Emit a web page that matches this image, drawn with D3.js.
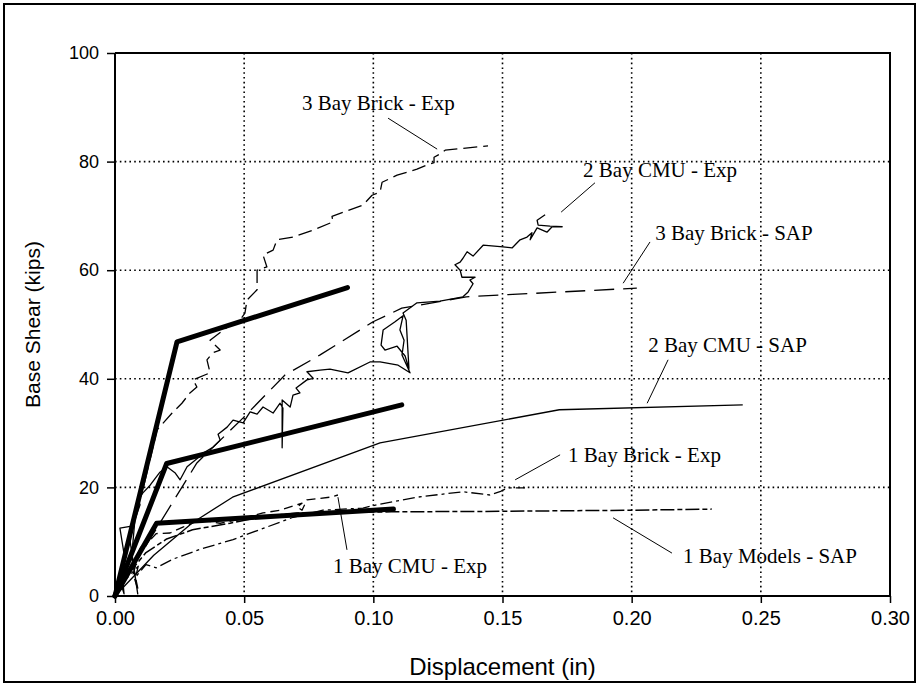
<!DOCTYPE html>
<html><head><meta charset="utf-8">
<script src="https://cdn.jsdelivr.net/npm/d3@7"></script>
<style>body{margin:0;background:#fff}</style></head>
<body><svg id="chart" width="918" height="685"></svg>
<script>
// ---- tick labels ----
const xTicks = [0, 0.05, 0.10, 0.15, 0.20, 0.25, 0.30];
const yTicks = [0, 20, 40, 60, 80, 100];
const xTitle = "Displacement (in)";
const yTitle = "Base Shear (kips)";

// ---- series: [displacement (in), base shear (kips)] ----
const bilinear3Bay = [[0,0],[0.024,46.8],[0.090,56.8]];
const bilinear2Bay = [[0,0],[0.020,24.4],[0.111,35.2]];
const bilinear1Bay = [[0,0],[0.0161,13.4],[0.1078,16.0]];

const bay3BrickExp = [[0,0],[0.003,6],[0.002,4],[0.006,12],[0.005,9],[0.009,17],[0.008,15],[0.012,22],[0.011,20],[0.014,26],
  [0.0163,30.6],[0.0221,33.7],[0.0259,35.5],[0.0290,37.4],[0.0317,38.5],[0.0302,39.8],[0.0368,41.1],[0.0356,43.5],
  [0.0379,44.8],[0.0407,45.3],[0.0368,47.1],[0.0434,49.5],[0.0484,50.8],[0.0503,52.1],[0.0511,54.5],[0.0550,56.4],
  [0.0550,58.2],[0.0550,60.0],[0.0588,60.6],[0.0573,62.8],[0.0612,63.7],[0.0627,65.6],[0.0689,66.1],[0.0767,67.4],
  [0.0844,68.9],[0.0840,69.9],[0.0960,72.0],[0.0995,73.8],[0.1026,74.4],[0.1034,76.2],[0.1092,77.5],[0.1169,78.6],
  [0.1208,79.4],[0.1235,79.8],[0.1235,80.8],[0.1258,81.4],[0.1278,82.1],[0.1444,82.9]];

const bay2CmuExp = [[0,0],[0.0019,2.9],[0.0035,0.4],[0.0027,4.5],[0.0039,6.6],[0.0019,12.5],[0.0070,12.9],[0.0050,9.4],
  [0.0058,10.3],[0.0088,0.4],[0.0065,7.5],[0.0077,14.0],
  [0.0097,16.8],[0.0089,17.7],[0.0108,19.0],[0.0136,20.4],[0.0174,22.8],[0.0201,23.8],[0.0232,22.7],[0.0252,21.4],
  [0.0279,23.8],[0.0310,25.0],[0.0348,26.5],[0.0379,27.4],[0.0407,28.7],[0.0399,29.8],[0.0434,31.1],[0.0457,32.4],
  [0.0496,31.9],[0.0523,33.9],[0.0550,33.5],[0.0573,34.8],[0.0612,33.7],[0.0639,35.5],[0.0650,34.6],[0.0647,27.3],
  [0.0647,36.1],[0.0678,34.8],[0.0689,37.0],[0.0716,37.4],[0.0701,38.3],[0.0743,39.8],[0.0767,40.1],[0.0743,41.3],
  [0.0794,41.6],[0.0832,41.8],[0.0902,41.1],[0.0987,43.1],[0.1026,43.1],[0.1096,42.5],[0.1142,41.1],[0.1111,44.4],
  [0.1119,47.1],[0.1103,49.0],[0.1115,51.6],[0.1084,50.5],[0.1038,49.0],[0.1030,46.2],[0.1045,45.3],[0.1092,46.0],
  [0.1123,44.2],[0.1138,41.8],[0.1127,50.8],[0.1115,52.1],[0.1169,54.0],[0.1258,54.3],[0.1347,55.1],[0.1367,56.0],
  [0.1386,57.5],[0.1374,58.2],[0.1394,58.7],[0.1343,58.7],[0.1336,60.0],[0.1316,61.0],[0.1336,61.5],[0.1347,62.2],
  [0.1363,63.4],[0.1386,62.6],[0.1425,64.6],[0.1502,64.3],[0.1537,64.1],[0.1568,65.6],[0.1595,66.1],[0.1614,66.9],
  [0.1607,65.6],[0.1618,66.5],[0.1634,67.8],[0.1672,67.0],[0.1692,68.0],[0.1731,68.0],[0.1684,68.1],[0.1638,68.3],
  [0.1634,69.2],[0.1665,70.2]];

const bay3BrickSap = [[0,0],[0.0317,24.5],[0.0496,32.8],[0.0658,40.7],[0.0794,44.4],[0.0999,50.5],[0.111,53.0],
  [0.136,55.1],[0.202,56.7]];

const bay2CmuSap = [[0,0],[0.015,7.5],[0.030,13.5],[0.0455,18.2],[0.1026,28.2],[0.172,34.3],[0.243,35.2]];

const bay1BrickExp = [[0,0],[0.003,2.5],[0.002,1.2],[0.006,4.5],[0.004,3],[0.009,5.5],[0.008,3.5],[0.012,5.8],
  [0.016,5.2],[0.0225,6.8],[0.033,8.6],[0.0457,10.4],[0.0588,12.7],[0.069,14.5],[0.0805,15.8],[0.096,16.2],
  [0.1014,16.8],[0.117,18.2],[0.1347,19.2],[0.145,18.6],[0.149,19.2],[0.1518,19.9],[0.1587,19.9]];

const bay1CmuExp = [[0,0],[0.004,5],[0.002,3],[0.006,8],[0.009,1],[0.007,4],[0.010,9],[0.008,7],[0.013,10.5],
  [0.011,9],[0.016,11.5],[0.0213,11.6],[0.0263,12.7],[0.0329,14.0],[0.0407,13.4],[0.0472,14.0],[0.0573,15.3],
  [0.0639,15.8],[0.0724,17.1],[0.0705,16.4],[0.0724,15.8],[0.0743,17.7],[0.0832,18.2],[0.0863,18.6]];

const bay1ModelsSap = [[0,0],[0.005,4],[0.012,8],[0.020,10.5],[0.030,12.2],[0.0445,13.4],[0.057,14.6],[0.0705,15.3],
  [0.107,15.5],[0.150,15.6],[0.200,15.8],[0.231,16.0]];

// ---- annotations: text, label anchor (d, v), leader from -> to ----
const labels = ["3 Bay Brick - Exp","2 Bay CMU - Exp","3 Bay Brick - SAP","2 Bay CMU - SAP","1 Bay Brick - Exp","1 Bay Models - SAP","1 Bay CMU - Exp"];
const labelAt = [[0.0724,89.5],[0.1812,77.2],[0.2091,65.6],[0.2064,44.9],[0.1754,24.7],[0.2199,6.1],[0.0844,4.2]];
const leaders = [[[0.1057,88.0],[0.1247,82.3]],[[0.1858,76.1],[0.1727,70.7]],[[0.2071,65.2],[0.1967,57.6]],
  [[0.2141,43.5],[0.2060,35.5]],[[0.1723,26.0],[0.1549,21.4]],[[0.1928,14.4],[0.2156,7.9]],[[0.0863,18.2],[0.0898,8.5]]];

// ---- drawing ----
const svg = d3.select("#chart");
const L = 115, R = 890, T = 53, B = 596;
const x = d3.scaleLinear().domain([0, 0.30]).range([L, R]);
const y = d3.scaleLinear().domain([0, 100]).range([B, T]);
const line = d3.line().x(d => x(d[0])).y(d => y(d[1]));
const sans = "Liberation Sans, Arial, sans-serif";

svg.append("rect").attr("x", 4).attr("y", 4).attr("width", 911).attr("height", 678)
  .attr("fill", "#fff").attr("stroke", "#000").attr("stroke-width", 2);

// grid
const grid = svg.append("g").attr("stroke", "#000").attr("stroke-width", 1.6).attr("stroke-dasharray", "1.6,3.2");
grid.selectAll(".vx").data(xTicks.slice(1, -1)).join("line")
  .attr("x1", d => x(d)).attr("x2", d => x(d)).attr("y1", T).attr("y2", B);
grid.selectAll(".hy").data(yTicks.slice(1, -1)).join("line")
  .attr("x1", L).attr("x2", R).attr("y1", d => y(d)).attr("y2", d => y(d));

// series
const series = [
  {d: bay1BrickExp, w: 1.3, dash: "12,4,3,4"},
  {d: bay1ModelsSap, w: 1.5, dash: "14,3,5,3"},
  {d: bay1CmuExp, w: 1.3, dash: "9,5"},
  {d: bay2CmuSap, w: 1.3, dash: null},
  {d: bay3BrickSap, w: 1.3, dash: "20,9"},
  {d: bay3BrickExp, w: 1.3, dash: "14,6"},
  {d: bay2CmuExp, w: 1.3, dash: null},
  {d: bilinear3Bay, w: 5, dash: null, cap: "round"},
  {d: bilinear2Bay, w: 5, dash: null, cap: "round"},
  {d: bilinear1Bay, w: 5, dash: null, cap: "round"}
];
series.forEach(s => {
  svg.append("path").datum(s.d).attr("d", line).attr("fill", "none").attr("stroke", "#000")
    .attr("stroke-width", s.w).attr("stroke-dasharray", s.dash).attr("stroke-linecap", s.cap || "butt")
    .attr("stroke-linejoin", "round");
});

// borders (top, right)
svg.append("path").attr("d", `M${L},${T}H${R}V${B}`).attr("fill", "none").attr("stroke", "#000").attr("stroke-width", 2);

// axes
const xAxis = d3.axisBottom(x).tickValues(xTicks).tickFormat(d3.format(".2f")).tickSize(7).tickPadding(8);
const yAxis = d3.axisLeft(y).tickValues(yTicks).tickFormat(d3.format("d")).tickSize(8).tickPadding(8);
const gx = svg.append("g").attr("transform", `translate(0,${B})`).call(xAxis);
const gy = svg.append("g").attr("transform", `translate(${L},0)`).call(yAxis);
[gx, gy].forEach(g => {
  g.select(".domain").attr("stroke", "#000").attr("stroke-width", 2);
  g.selectAll(".tick line").attr("stroke", "#000").attr("stroke-width", 1.5);
  g.selectAll("text").attr("font-family", sans).attr("fill", "#000");
});
gx.selectAll("text").attr("font-size", 20);
gy.selectAll("text").attr("font-size", 18);
gx.select(".domain").attr("d", `M${L},0H${R}`);
gy.select(".domain").attr("d", `M0,${B}V${T}`);

svg.append("text").attr("x", (L + R) / 2).attr("y", 675).attr("text-anchor", "middle")
  .attr("font-family", sans).attr("font-size", 24).text(xTitle);
svg.append("text").attr("transform", `translate(40,${(T + B) / 2}) rotate(-90)`).attr("text-anchor", "middle")
  .attr("font-family", sans).attr("font-size", 21).text(yTitle);

// annotations
labels.forEach((t, i) => {
  svg.append("line").attr("x1", x(leaders[i][0][0])).attr("y1", y(leaders[i][0][1]))
    .attr("x2", x(leaders[i][1][0])).attr("y2", y(leaders[i][1][1])).attr("stroke", "#000").attr("stroke-width", 1);
  svg.append("text").attr("x", x(labelAt[i][0])).attr("y", y(labelAt[i][1]))
    .attr("font-family", "Liberation Serif, Times New Roman, serif").attr("font-size", 21).text(t);
});
</script></body></html>
